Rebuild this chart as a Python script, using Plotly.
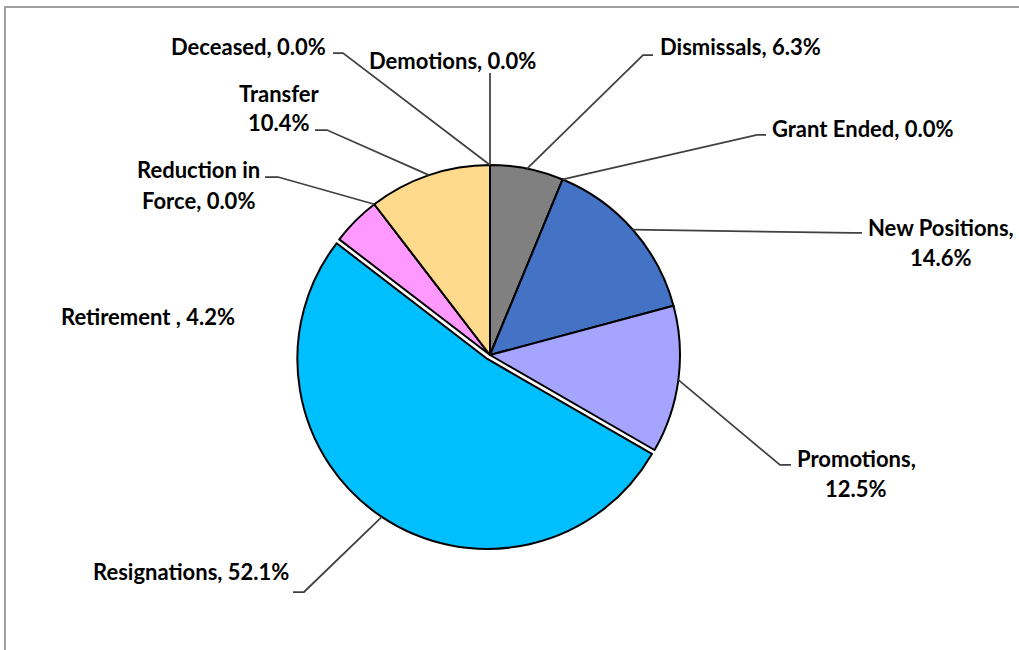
import math
import plotly.graph_objects as go

# ---------------- data ----------------
categories = ["Demotions", "Dismissals", "Grant Ended", "New Positions", "Promotions",
              "Resignations", "Retirement", "Reduction in Force", "Transfer", "Deceased"]
counts = [0, 3, 0, 7, 6, 25, 2, 0, 5, 0]
label_templates = ["Demotions, {}", "Dismissals, {}", "Grant Ended, {}", "New Positions,<br>{}",
                   "Promotions,<br>{}", "Resignations, {}", "Retirement , {}",
                   "Reduction in<br>Force, {}", "Transfer<br>{}", "Deceased, {}"]
colors = ["#808080", "#808080", "#808080", "#4472C4", "#A5A5FF",
          "#00BFFF", "#FF99FF", "#FF99FF", "#FFD98C", "#FFD98C"]
pulls = [0, 0, 0, 0, 0, 0.025, 0, 0, 0, 0]

# ---------------- layout constants ----------------
W, H = 1019, 650
CX, CY, R = 490, 355, 190  # pie centre / radius in px
maxpull = max(pulls)
half = R * (1 + maxpull)
LINE_GAP = 30  # px between lines of a two-line label

# label placement (px): x, y (centre of block), xanchor
label_pos = {
    "Demotions": (452, 60, "center"),
    "Dismissals": (658, 47, "left"),
    "Grant Ended": (770, 128, "left"),
    "New Positions": (941, 242, "center"),
    "Promotions": (856, 473, "center"),
    "Resignations": (191, 571, "center"),
    "Retirement": (148, 317, "center"),
    "Reduction in Force": (198, 185, "center"),
    "Transfer": (279, 108, "center"),
    "Deceased": (328, 47, "right"),
}
# leader line elbow points (px), from label side towards the pie
leader_pts = {
    "Demotions": [(490, 73)],
    "Dismissals": [(653, 55), (643, 55)],
    "Grant Ended": [(766, 135), (757, 135)],
    "New Positions": [(862, 233), (852, 233)],
    "Promotions": [(791, 465), (780, 465)],
    "Resignations": [(293, 592), (304, 592)],
    "Reduction in Force": [(265, 177), (278, 177)],
    "Transfer": [(315, 130), (327, 130)],
    "Deceased": [(333, 53), (343, 53)],
}


def px(x):
    return x / W


def py(y):
    return 1 - y / H


total = sum(counts)


def pct_text(v):
    p = math.floor(v / total * 1000 + 0.5) / 10
    return f"{p:.1f}%"


fig = go.Figure()
fig.add_trace(go.Pie(
    labels=categories,
    values=counts,
    sort=False,
    direction="clockwise",
    rotation=0,
    pull=pulls,
    textinfo="none",
    hoverinfo="label+percent",
    marker=dict(colors=colors, line=dict(color="#000000", width=2)),
    domain=dict(x=[px(CX - half), px(CX + half)], y=[py(CY + half), py(CY - half)]),
    showlegend=False,
))

annotations = []
shapes = []
cum = 0
for name, v, tmpl, pl in zip(categories, counts, label_templates, pulls):
    start = cum
    cum += v
    frac = (start + v / 2) / total
    ang = frac * 2 * math.pi
    ox = CX + pl * R * math.sin(ang)
    oy = CY - pl * R * math.cos(ang)
    ax = ox + R * math.sin(ang)
    ay = oy - R * math.cos(ang)
    lx, ly, xa = label_pos[name]
    lines = tmpl.format(pct_text(v)).split("<br>")
    n = len(lines)
    for i, line in enumerate(lines):
        yy = ly + (i - (n - 1) / 2) * LINE_GAP
        annotations.append(dict(
            x=px(lx), y=py(yy), xref="paper", yref="paper", xanchor=xa, yanchor="middle",
            text=line, showarrow=False, align="center",
            font=dict(family="Lato", size=22, color="#000000", weight="bold"),
        ))
    if name in leader_pts:
        pts = leader_pts[name] + [(ax, ay)]
        path = "M " + " L ".join(f"{px(x):.5f},{py(y):.5f}" for x, y in pts)
        shapes.append(dict(type="path", path=path, xref="paper", yref="paper",
                           line=dict(color="#404040", width=1.75)))

# outer chart border (top and left visible)
shapes.append(dict(type="rect", xref="paper", yref="paper",
                   x0=px(5), x1=1.05, y0=-0.05, y1=py(7),
                   line=dict(color="#A0A0A0", width=2), fillcolor="rgba(0,0,0,0)"))

fig.update_layout(
    width=W, height=H,
    margin=dict(l=0, r=0, t=0, b=0),
    paper_bgcolor="white", plot_bgcolor="white",
    annotations=annotations, shapes=shapes,
)

fig.write_html("out.html", config={"displayModeBar": False},
               post_script="document.body.style.margin='0';document.body.style.overflow='hidden';")
